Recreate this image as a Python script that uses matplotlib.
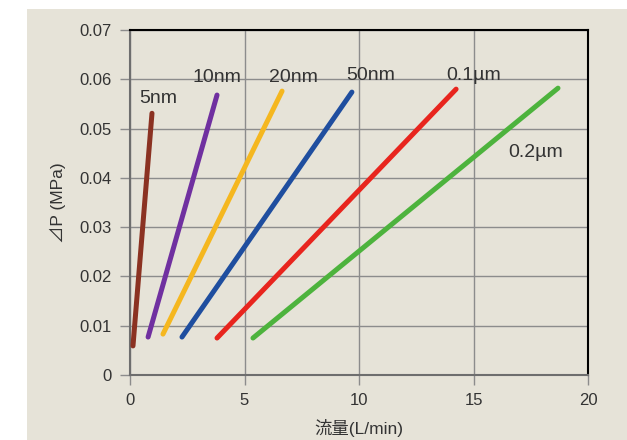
import matplotlib.pyplot as plt
from matplotlib.patches import Rectangle

plt.rcParams['font.family'] = ['Liberation Sans', 'Noto Sans CJK JP', 'DejaVu Sans']

labels = ['5nm', '10nm', '20nm', '50nm', '0.1\u00b5m', '0.2\u00b5m']
x_start = [0.13, 0.79, 1.44, 2.27, 3.80, 5.37]
y_start = [0.0059, 0.0077, 0.0083, 0.0077, 0.0075, 0.0075]
x_end = [0.96, 3.80, 6.64, 9.69, 14.24, 18.69]
y_end = [0.0531, 0.0568, 0.0576, 0.0574, 0.0580, 0.0582]
colors = ['#8b3222', '#7030a0', '#f5b71f', '#1f4e9f', '#e8251e', '#4db33d']
label_pos = [(1.25, 0.0561), (3.8, 0.0604), (7.15, 0.0604), (10.5, 0.0608), (15.0, 0.0608), (17.7, 0.0452)]

bg = '#e6e3d8'
txt = '#333333'

fig = plt.figure(figsize=(6.27, 4.40), dpi=100)
fig.patches.append(Rectangle((27/627, 0), 1, (440-9)/440, transform=fig.transFigure,
                             facecolor=bg, edgecolor='none', zorder=-10))
ax = fig.add_axes([130/627, 1-375/440, 458/627, 345/440])
ax.set_facecolor(bg)

for i in range(len(labels)):
    ax.plot([x_start[i], x_end[i]], [y_start[i], y_end[i]], color=colors[i],
            lw=3.6, solid_capstyle='round', zorder=3)
    ax.text(label_pos[i][0], label_pos[i][1], labels[i], fontsize=14, color=txt,
            ha='center', va='center', zorder=4)

ax.set_xlim(0, 20)
ax.set_ylim(0, 0.07)
ax.set_xticks([0, 5, 10, 15, 20])
ax.set_yticks([0, 0.01, 0.02, 0.03, 0.04, 0.05, 0.06, 0.07])
ax.set_yticklabels(['0', '0.01', '0.02', '0.03', '0.04', '0.05', '0.06', '0.07'])
ax.grid(True, color='#8c8c8c', lw=1)
ax.set_axisbelow(True)
ax.tick_params(colors='#8c8c8c', labelcolor=txt, labelsize=12, length=7, width=1, pad=6)

for s in ['left', 'bottom']:
    ax.spines[s].set_color('#6e6e6e')
    ax.spines[s].set_linewidth(1.5)
for s in ['top', 'right']:
    ax.spines[s].set_color('black')
    ax.spines[s].set_linewidth(1.5)

ax.set_xlabel('流量(L/min)', fontsize=12.5, color=txt, labelpad=8)
ax.set_ylabel('\u22bfP (MPa)', fontsize=12.5, color=txt, labelpad=10)

fig.savefig('out.png', dpi=100)
